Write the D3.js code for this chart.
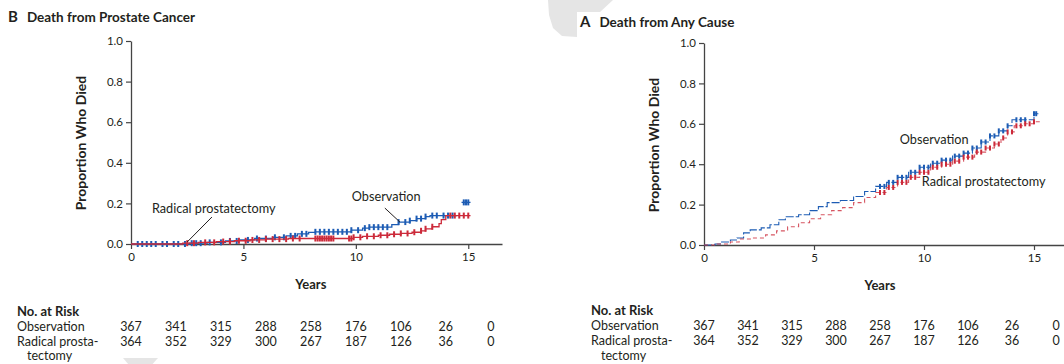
<!DOCTYPE html>
<html><head><meta charset="utf-8">
<script src="https://cdn.jsdelivr.net/npm/d3@7/dist/d3.min.js"></script>
<style>
body{margin:0;background:#fff;}
svg{display:block;font-family:Lato,"Open Sans",sans-serif;}
</style>
</head><body>
<svg id="c" width="1064" height="364"></svg>
<script>
// ---------- data ----------
const yTicks = [0, 0.2, 0.4, 0.6, 0.8, 1.0];
const xTicks = [0, 5, 10, 15];
const riskYears = [0, 2, 4, 6, 8, 10, 12, 14, 16];
const riskObservation = [367, 341, 315, 288, 258, 176, 106, 26, 0];
const riskSurgery = [364, 352, 329, 300, 267, 187, 126, 36, 0];
const seriesNames = ["Observation", "Radical prostatectomy"];

// Panel B: death from prostate cancer (step points [year, proportion])
const prostateObs = [[0,0],[2.6,0.004],[3.4,0.008],[4.2,0.015],[4.8,0.02],[5.5,0.027],[6.3,0.033],[6.9,0.04],[7.4,0.05],[7.9,0.057],[8.2,0.06],[9.8,0.068],[10.3,0.078],[10.6,0.083],[11.6,0.095],[11.9,0.108],[12.4,0.115],[12.7,0.125],[13.1,0.135],[13.3,0.14],[14.5,0.14]];
const prostateObsTail = [[14.7,0.205],[15.1,0.205]];
const prostateRP = [[0,0],[2.3,0.004],[3.0,0.008],[3.8,0.012],[4.6,0.016],[5.3,0.02],[6.0,0.024],[7.0,0.027],[9.9,0.033],[10.3,0.038],[11.0,0.043],[11.5,0.048],[12.0,0.052],[12.5,0.058],[12.9,0.065],[13.1,0.075],[13.4,0.085],[13.7,0.1],[13.8,0.12],[14.0,0.14],[15.1,0.14]];
const prostateObsCensor = [0.3,0.5,0.7,0.9,1.1,1.4,1.6,1.9,2.1,2.4,2.7,2.9,3.1,3.5,4.0,4.4,4.7,5.2,5.6,6.0,6.4,6.8,7.1,7.3,7.6,7.8,8.2,8.4,8.6,8.8,9.0,9.2,9.4,9.6,9.8,10.1,10.4,10.6,10.8,11.0,11.2,11.4,11.9,12.2,12.4,12.7,12.9,13.1,13.4,13.6,13.9,14.1,14.3];
const prostateObsTailCensor = [14.8,14.9,15.0];
const prostateRPCensor = [2.5,2.8,3.3,3.7,4.1,4.4,4.8,5.1,5.4,5.7,6.0,6.3,6.6,6.9,7.2,7.5,8.2,8.3,8.4,8.5,8.6,8.7,8.8,8.9,9.0,9.7,9.8,9.9,10.2,10.5,10.8,11.1,11.4,11.7,12.0,12.3,12.6,12.9,13.1,13.4,14.2,14.4,14.6,14.8,15.0];

// Panel A: death from any cause
const anyObs = [[0,0],[0.5,0.005],[0.8,0.015],[1.2,0.025],[1.5,0.035],[1.8,0.06],[2.1,0.075],[2.6,0.085],[3.0,0.1],[3.4,0.125],[3.7,0.14],[4.3,0.15],[4.8,0.17],[5.2,0.19],[5.6,0.21],[6.2,0.22],[6.8,0.24],[7.3,0.265],[7.8,0.29],[8.3,0.31],[8.8,0.335],[9.3,0.36],[9.8,0.385],[10.3,0.405],[10.8,0.42],[11.3,0.44],[11.8,0.455],[12.2,0.48],[12.6,0.51],[13.0,0.54],[13.4,0.565],[13.8,0.59],[14.0,0.62],[15.0,0.65],[15.2,0.65]];
const anyRP = [[0,0],[0.6,0.005],[1.2,0.015],[1.6,0.03],[2.2,0.035],[2.8,0.05],[3.3,0.07],[3.8,0.09],[4.3,0.11],[4.8,0.13],[5.3,0.15],[5.8,0.17],[6.3,0.185],[6.8,0.21],[7.3,0.235],[7.8,0.26],[8.3,0.285],[8.8,0.31],[9.3,0.335],[9.8,0.36],[10.3,0.385],[10.8,0.4],[11.3,0.415],[11.8,0.435],[12.3,0.46],[12.8,0.48],[13.2,0.5],[13.5,0.53],[13.8,0.56],[14.1,0.59],[14.5,0.6],[15.0,0.61],[15.3,0.61]];
const anyObsCensor = [8.0,8.2,8.4,8.6,8.8,9.0,9.2,9.4,9.6,9.8,10.0,10.2,10.4,10.6,10.8,11.0,11.2,11.4,11.6,11.8,12.0,12.2,12.4,12.6,12.8,13.0,13.2,13.4,13.6,13.8,14.2,14.4,14.6,15.0,15.1];
const anyRPCensor = [8.0,8.2,8.4,8.6,8.8,9.0,9.2,9.4,9.6,9.8,10.0,10.2,10.4,10.6,10.8,11.0,11.2,11.4,11.6,11.8,12.0,12.2,12.4,12.6,12.8,13.0,13.2,13.4,13.6,13.8,14.0,14.2,14.4,14.6,14.8,15.0];

// ---------- drawing ----------
const BLUE = "#1d5cb4", RED = "#cc2a3a", INK = "#231f20", AXIS = "#444";
const svg = d3.select("#c");

// faint grey page artefacts
svg.append("path").attr("d","M548,0 L613,0 L600,12 L577,12 L577,37 L562,36 L553,28 L549,15 Z").attr("fill","#e5e5e5");

function stepAt(series, t){ let v = 0; for (const p of series) if (p[0] <= t) v = p[1]; return v; }

function panel(o){
  const g = svg.append("g");
  const x = d3.scaleLinear().domain([0, 16.5]).range([o.x0, o.x1]);
  const y = d3.scaleLinear().domain([0, 1]).range([o.y0, o.y1]);

  // title
  const t = g.append("text").attr("x", o.tx).attr("y", o.ty).attr("font-weight", 700).attr("font-size", 13.5).attr("fill", INK);
  t.append("tspan").attr("font-size", 15).text(o.letter);
  t.append("tspan").attr("dx", 9).text(o.title);

  // axes
  const ya = g.append("g").attr("transform", `translate(${o.x0},0)`)
    .call(d3.axisLeft(y).tickValues(yTicks).tickFormat(d3.format(".1f")).tickSize(5).tickSizeOuter(0).tickPadding(3));
  const xa = g.append("g").attr("transform", `translate(0,${o.y0})`)
    .call(d3.axisBottom(x).tickValues(xTicks).tickSize(5).tickSizeOuter(0).tickPadding(4));
  [ya, xa].forEach(a => {
    a.select(".domain").attr("stroke", AXIS).attr("stroke-width", 1.3);
    a.selectAll(".tick line").attr("stroke", AXIS).attr("stroke-width", 1.2);
    a.selectAll("text").attr("font-family", "Lato, sans-serif").attr("font-size", 11.5).attr("fill", INK);
  });

  g.append("text").attr("transform", `translate(${o.ylx},${o.yly}) rotate(-90)`)
    .attr("text-anchor", "middle").attr("dy", "0.35em").attr("font-weight", 700).attr("font-size", 14).attr("fill", INK)
    .text("Proportion Who Died");
  g.append("text").attr("x", x(8)).attr("y", o.y0 + 40).attr("text-anchor", "middle").attr("dy", "0.35em")
    .attr("font-weight", 700).attr("font-size", 13).attr("fill", INK).text("Years");

  // curves
  const line = d3.line().x(d => x(d[0])).y(d => y(d[1])).curve(d3.curveStepAfter);
  o.series.forEach(s => {
    g.append("path").datum(s.data).attr("d", line).attr("fill", "none").attr("stroke", s.color)
      .attr("stroke-width", o.lw).attr("stroke-dasharray", s.dash || null).attr("opacity", s.op || 1);
    g.selectAll(null).data(s.censor).enter().append("rect")
      .attr("x", d => x(d) - 1).attr("width", 2)
      .attr("y", d => y(stepAt(s.data, d)) - o.ch / 2).attr("height", o.ch)
      .attr("fill", s.color);
  });

  // labels
  o.labels.forEach(l => {
    g.append("text").attr("x", x(l.x)).attr("y", y(l.y)).attr("dy", "0.35em").attr("font-size", 12.7).attr("fill", INK).text(l.text);
    if (l.lead) g.append("line").attr("x1", x(l.lead[0])).attr("y1", y(l.lead[1])).attr("x2", x(l.lead[2])).attr("y2", y(l.lead[3]))
      .attr("stroke", INK).attr("stroke-width", 1);
  });

  // risk table
  const tb = g.append("g").attr("font-size", 12.5).attr("fill", INK);
  tb.append("text").attr("x", o.rx).attr("y", o.ry).attr("font-weight", 700).attr("font-size", 13).text("No. at Risk");
  tb.append("text").attr("x", o.rx).attr("y", o.ry + 15).text(seriesNames[0]);
  tb.append("text").attr("x", o.rx).attr("y", o.ry + 30).text("Radical prosta-");
  tb.append("text").attr("x", o.rx + 10).attr("y", o.ry + o.tecY).text("tectomy");
  [riskObservation, riskSurgery].forEach((row, i) => {
    tb.selectAll(null).data(row).enter().append("text")
      .attr("x", (d, j) => x(riskYears[j])).attr("y", o.ry + 15 * (i + 1)).attr("text-anchor", "middle").text(d => d);
  });
}

panel({
  letter: "B", title: "Death from Prostate Cancer", tx: 8, ty: 22,
  x0: 131, x1: 502, y0: 244, y1: 41, ylx: 81, yly: 143, lw: 1.3, ch: 6,
  rx: 17, ry: 316, tecY: 44,
  series: [
    {data: prostateObs, censor: prostateObsCensor, color: BLUE},
    {data: prostateObsTail, censor: prostateObsTailCensor, color: BLUE},
    {data: prostateRP, censor: prostateRPCensor, color: RED}
  ],
  labels: [
    {text: "Radical prostatectomy", x: 0.93, y: 0.177, lead: [3.6, 0.133, 2.5, 0.01]},
    {text: "Observation", x: 9.82, y: 0.232, lead: [11.29, 0.177, 11.96, 0.108]}
  ]
});

// faint grey artefact partly covering the lower-left table
svg.append("path").attr("d","M123,358 L158,358 L140,378 Z").attr("fill","#e2e2e2").attr("opacity", 0.9);

panel({
  letter: "A", title: "Death from Any Cause", tx: 580, ty: 27,
  x0: 704, x1: 1067, y0: 245, y1: 43, ylx: 654, yly: 145, lw: 1.1, ch: 5,
  rx: 591, ry: 315, tecY: 45,
  series: [
    {data: anyObs, censor: anyObsCensor, color: BLUE, dash: "8,2"},
    {data: anyRP, censor: anyRPCensor, color: RED, dash: "4,3", op: 0.8}
  ],
  labels: [
    {text: "Observation", x: 8.9, y: 0.523},
    {text: "Radical prostatectomy", x: 9.9, y: 0.313}
  ]
});
</script>
</body></html>
